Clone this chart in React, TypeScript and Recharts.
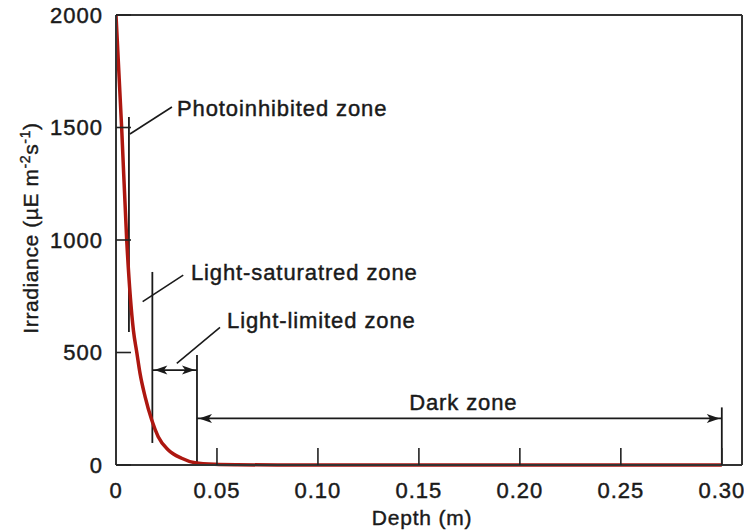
import React from 'react';
import { LineChart, Line, XAxis, YAxis, ReferenceLine, ReferenceDot, Label } from 'recharts';

// irradiance profile
const depths = [0, 0.0028, 0.0053, 0.0086, 0.0103, 0.0119, 0.0144, 0.0177, 0.0209, 0.0259, 0.0325, 0.0391, 0.049, 0.06, 0.08, 0.3];
const irradiance = [2000, 1500, 1000, 600, 500, 407, 304, 200, 126, 67, 30, 10, 3, 1, 0, 0];

const xTicks = [0, 0.05, 0.1, 0.15, 0.2, 0.25, 0.3];
const yTicks = [0, 500, 1000, 1500, 2000];
const xMax = 0.31;
const yMax = 2000;

// zone markers in data units (depth, irradiance)
const bracketLines = [
  [{ x: 0.0064, y: 591 }, { x: 0.0064, y: 1547 }],
  [{ x: 0.018, y: 98 }, { x: 0.018, y: 858 }],
  [{ x: 0.0401, y: 0 }, { x: 0.0401, y: 489 }],
  [{ x: 0.3, y: 0 }, { x: 0.3, y: 256 }],
];
const leaderLines = [
  [{ x: 0.0069, y: 1471 }, { x: 0.0277, y: 1591 }],
  [{ x: 0.0132, y: 726 }, { x: 0.0333, y: 844 }],
  [{ x: 0.0301, y: 452 }, { x: 0.0515, y: 612 }],
];
const spanArrows = [
  [{ x: 0.018, y: 422 }, { x: 0.0401, y: 422 }],
  [{ x: 0.0401, y: 207 }, { x: 0.3, y: 207 }],
];
const zoneLabels = [
  { text: 'Photoinhibited zone', x: 0.0302, y: 1587, anchor: 'start' },
  { text: 'Light-saturatred zone', x: 0.0371, y: 859, anchor: 'start' },
  { text: 'Light-limited zone', x: 0.055, y: 644, anchor: 'start' },
  { text: 'Dark zone', x: 0.172, y: 281, anchor: 'middle' },
];

const data = depths.map((d, i) => ({ depth: d, irradiance: irradiance[i] }));

const FONT = '"Liberation Sans", Arial, Helvetica, sans-serif';
const INK = '#1a1a1a';

function arrowHead(tx: number, ty: number, ux: number, uy: number) {
  const len = 13;
  const half = 4.5;
  const bx = tx - ux * len;
  const by = ty - uy * len;
  const nx = -uy;
  const ny = ux;
  const mx = tx - ux * len * 0.75;
  const my = ty - uy * len * 0.75;
  return `${tx},${ty} ${bx + nx * half},${by + ny * half} ${mx},${my} ${bx - nx * half},${by - ny * half}`;
}

const DoubleArrow = (props: any) => {
  const { x1, y1, x2, y2 } = props;
  const L = Math.hypot(x2 - x1, y2 - y1) || 1;
  const ux = (x2 - x1) / L;
  const uy = (y2 - y1) / L;
  return (
    <g>
      <line x1={x1} y1={y1} x2={x2} y2={y2} stroke={INK} strokeWidth={1.8} />
      <polygon points={arrowHead(x2 - ux * 2, y2 - uy * 2, ux, uy)} fill={INK} />
      <polygon points={arrowHead(x1 + ux * 2, y1 + uy * 2, -ux, -uy)} fill={INK} />
    </g>
  );
};

const zoneText = (text: string, anchor: string) => (props: any) => (
  <text
    x={props.cx}
    y={props.cy}
    dy="0.36em"
    textAnchor={anchor}
    fontFamily={FONT}
    fontSize={22}
    letterSpacing={0.9}
    fill={INK}
    stroke={INK}
    strokeWidth={0.45}
  >
    {text}
  </text>
);

const YTitle = () => (
  <text
    transform="translate(38, 228) rotate(-90)"
    textAnchor="middle"
    fontFamily={FONT}
    fontSize={21}
    letterSpacing={0.6}
    fill={INK}
    stroke={INK}
    strokeWidth={0.4}
  >
    Irradiance (µE m
    <tspan dy={-8} fontSize={14}>-2</tspan>
    <tspan dy={8}>s</tspan>
    <tspan dy={-8} fontSize={14}>-1</tspan>
    <tspan dy={8}>)</tspan>
  </text>
);

const XTitle = () => (
  <text
    x={422}
    y={525}
    textAnchor="middle"
    fontFamily={FONT}
    fontSize={21}
    letterSpacing={0.8}
    fill={INK}
    stroke={INK}
    strokeWidth={0.4}
  >
    Depth (m)
  </text>
);

const tickStyle = { fontSize: 22, fill: INK, fontFamily: FONT, letterSpacing: 1, stroke: INK, strokeWidth: 0.45 };

export default function App() {
  return (
    <div style={{ width: 744, height: 532, background: '#fff' }}>
      <style>{`body{margin:0;}`}</style>
      <LineChart width={744} height={532} data={data} margin={{ top: 15, right: 2, bottom: 0, left: 0 }}>
        <XAxis
          type="number"
          dataKey="depth"
          domain={[0, xMax]}
          ticks={xTicks}
          allowDataOverflow
          height={67}
          tickSize={-17}
          tickMargin={34}
          tick={tickStyle}
          tickFormatter={(v: number) => (v === 0 ? '0' : v.toFixed(2))}
          axisLine={{ stroke: '#333', strokeWidth: 2 }}
          tickLine={{ stroke: '#222', strokeWidth: 1.6 }}
        >
          <Label content={<XTitle />} />
        </XAxis>
        <YAxis
          type="number"
          domain={[0, yMax]}
          ticks={yTicks}
          width={116}
          tickSize={-15}
          tickMargin={28}
          tick={tickStyle}
          axisLine={{ stroke: '#333', strokeWidth: 2 }}
          tickLine={{ stroke: '#222', strokeWidth: 1.6 }}
        >
          <Label content={<YTitle />} />
        </YAxis>
        <ReferenceLine y={yMax} stroke="#333" strokeWidth={2} />
        <ReferenceLine x={xMax} stroke="#333" strokeWidth={2} />
        {bracketLines.map((seg, i) => (
          <ReferenceLine key={`b${i}`} segment={seg} stroke={INK} strokeWidth={1.8} />
        ))}
        {leaderLines.map((seg, i) => (
          <ReferenceLine key={`l${i}`} segment={seg} stroke={INK} strokeWidth={1.6} />
        ))}
        {spanArrows.map((seg, i) => (
          <ReferenceLine key={`a${i}`} segment={seg} shape={DoubleArrow} />
        ))}
        <Line
          type="monotone"
          dataKey="irradiance"
          stroke="#ad1710"
          strokeWidth={3.5}
          dot={false}
          isAnimationActive={false}
        />
        {zoneLabels.map((z, i) => (
          <ReferenceDot key={`t${i}`} x={z.x} y={z.y} shape={zoneText(z.text, z.anchor)} />
        ))}
      </LineChart>
    </div>
  );
}
